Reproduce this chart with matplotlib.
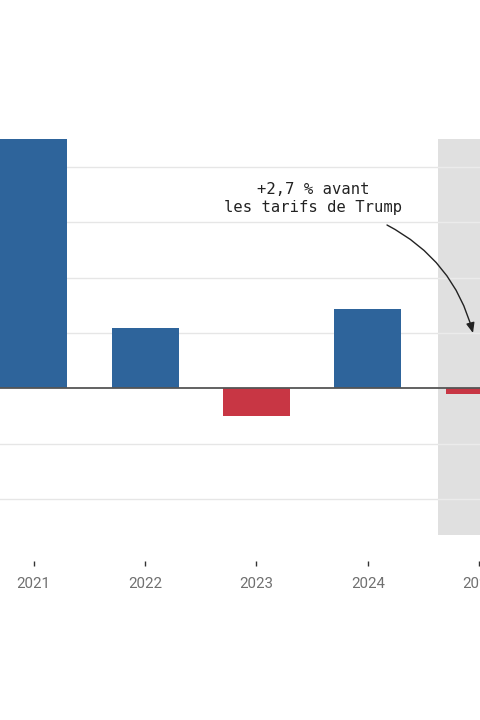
import matplotlib
matplotlib.use("Agg")
import matplotlib.pyplot as plt

years = [2021, 2022, 2023, 2024, 2025]
growth = [4.5, 1.1, -0.5, 1.44, -0.1]
tick_labels = ["2021", "2022", "2023", "2024", "2025"]
grid_values = [-2, -1, 1, 2, 3, 4]
annotation_text = "+2,7 % avant\nles tarifs de Trump"

BLUE = "#2E649B"
RED = "#C83644"
SHADE_START = 2024.63

fig = plt.figure(figsize=(4.8, 7.2), dpi=100)
fig.patch.set_facecolor("white")
ax = fig.add_axes([0, 185 / 720, 1, 396 / 720])

x0, x1 = 2020.6975, 2025.0065
ax.set_xlim(x0, x1)
ax.set_ylim(-2.649, 4.506)

ax.axvspan(SHADE_START, 2026, color="#e0e0e0", zorder=0, lw=0)

frac = (SHADE_START - x0) / (x1 - x0)
for g in grid_values:
    ax.axhline(g, xmin=0, xmax=frac, color="#e6e6e6", lw=1.0, zorder=0.5)
    ax.axhline(g, xmin=frac, xmax=1, color="#ebebeb", lw=1.0, zorder=0.5)

colors = [BLUE if v >= 0 else RED for v in growth]
ax.bar(years, growth, width=0.6, color=colors, zorder=2, lw=0)
ax.axhline(0, color="#555555", lw=1.3, zorder=3)

ax.set_yticks([])
for s in ["top", "right", "left"]:
    ax.spines[s].set_visible(False)
ax.spines["bottom"].set_position(("outward", 18.5))
ax.spines["bottom"].set_visible(False)

ax.set_xticks(years)
ax.set_xticklabels(tick_labels, fontfamily="Roboto", fontsize=10.8, color="#707070")
ax.tick_params(axis="x", length=3.6, width=1, color="#333333", pad=8.5)

fig.text(313 / 480, 1 - 198.5 / 720, annotation_text, ha="center", va="center",
         fontfamily="DejaVu Sans Mono", fontsize=11.2, color="#222222", linespacing=1.3)

ax.annotate("", xy=(473 / 480, 1 - 333 / 720), xycoords="figure fraction",
            xytext=(387 / 480, 1 - 225 / 720), textcoords="figure fraction",
            arrowprops=dict(arrowstyle="-|>,head_length=0.6,head_width=0.25", color="#222222",
                            lw=1, connectionstyle="arc3,rad=-0.22",
                            shrinkA=0, shrinkB=0),
            zorder=5)

fig.savefig("out.png", dpi=100, facecolor="white")
